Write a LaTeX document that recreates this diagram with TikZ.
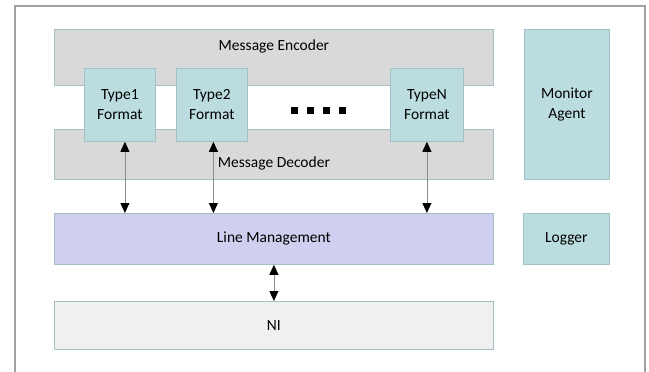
\documentclass[tikz,border=0pt]{standalone}
\usepackage{fontspec}
\setmainfont{Carlito}
\usetikzlibrary{arrows.meta,positioning,calc}
\definecolor{codecgray}{RGB}{217,217,217}
\definecolor{edgeblue}{RGB}{163,193,197}
\definecolor{formatteal}{RGB}{188,221,224}
\definecolor{linelilac}{RGB}{207,207,239}
\definecolor{nigray}{RGB}{240,240,240}
\definecolor{framegray}{RGB}{160,160,160}
\definecolor{wiregray}{RGB}{140,140,140}

\begin{document}
\begin{tikzpicture}[x=1pt, y=-1pt,
    block/.style={draw=edgeblue, line width=0.8pt, inner sep=0pt, anchor=north west,
        font=\fontsize{15.5}{20}\selectfont, align=center},
    link/.style={{Triangle[width=9pt,length=10pt,black]}-{Triangle[width=9pt,length=10pt,black]},
        draw=wiregray, line width=0.8pt}]

    \useasboundingbox (0,0) rectangle (649,372);

    % Outer frame, open at the bottom
    \draw[framegray, line width=1.5pt] (15,372) -- (15,6) -- (645,6) -- (645,372);

    % Codec layers
    \node[block, fill=codecgray, minimum width=439pt, minimum height=56pt,
        label={[anchor=north, inner sep=0pt, yshift=-11pt, font=\fontsize{15.5}{20}\selectfont]north:Message Encoder}]
        (enc) at (54,29) {};
    \node[block, fill=codecgray, minimum width=439pt, minimum height=50pt,
        label={[anchor=south, inner sep=0pt, yshift=9pt, font=\fontsize{15.5}{20}\selectfont]south:Message Decoder}]
        (dec) at (54,129) {};

    % Format boxes across both layers
    \node[block, fill=formatteal, minimum width=71pt, minimum height=73pt] (t1) at (84,68) {Type1\\Format};
    \node[block, fill=formatteal, minimum width=71pt, minimum height=73pt] (t2) at (176,68) {Type2\\Format};
    \node[block, fill=formatteal, minimum width=73pt, minimum height=73pt] (tn) at (390,68) {TypeN\\Format};

    % Dots between the formats
    \foreach \i in {0,...,3} {
        \fill[black] (291+16*\i,107) rectangle ++(7,7);
    }

    % Side boxes
    \node[block, fill=formatteal, minimum width=85pt, minimum height=150pt] (mon) at (524,29) {Monitor\\Agent};
    \node[block, fill=formatteal, minimum width=86pt, minimum height=51pt] (log) at (523,213) {Logger};

    % Lower layers
    \node[block, fill=linelilac, minimum width=439pt, minimum height=51pt] (lm) at (54,213) {Line Management};
    \node[block, fill=nigray, minimum width=439pt, minimum height=48pt] (ni) at (54,301) {NI};

    % Connections
    \draw[link] ([xshift=5pt]t1.south) -- ([xshift=5pt]t1.south |- lm.north);
    \draw[link] ([xshift=1.5pt]t2.south) -- ([xshift=1.5pt]t2.south |- lm.north);
    \draw[link] (tn.south) -- (tn.south |- lm.north);
    \draw[link] (lm.south) -- (ni.north);

\end{tikzpicture}
\end{document}
